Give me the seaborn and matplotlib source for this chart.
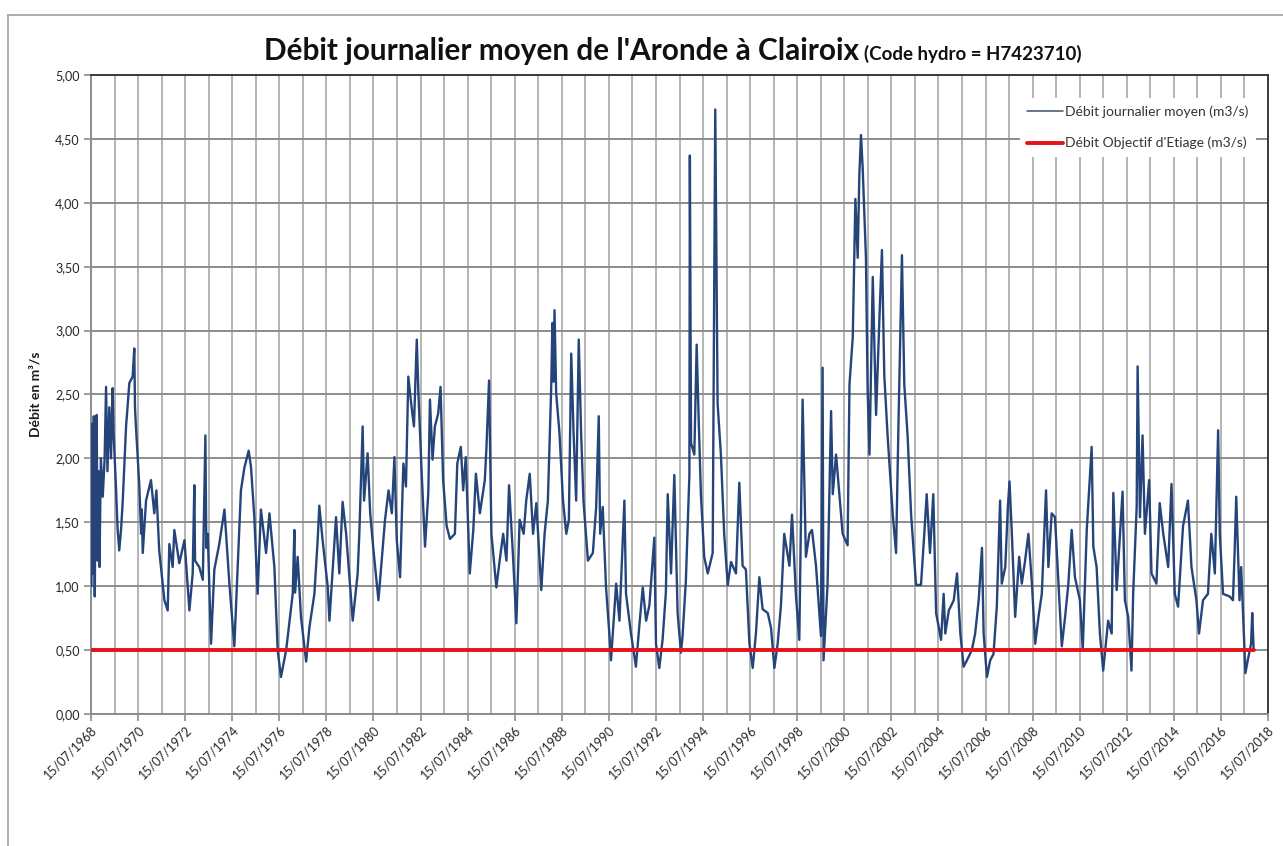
import numpy as np
import pandas as pd
import matplotlib
matplotlib.use("Agg")
import matplotlib.pyplot as plt
import matplotlib.dates as mdates
from matplotlib.lines import Line2D
from matplotlib.ticker import MultipleLocator, FuncFormatter
import seaborn as sns

# Débit journalier moyen de l'Aronde à Clairoix (m3/s), relevé aux dates
# exprimées en années décimales (x,5 = 15 juillet)
annees = [
    1968.52, 1968.55, 1968.58, 1968.62, 1968.66, 1968.70, 1968.74, 1968.78, 1968.82, 1968.86,
    1968.92, 1969.00, 1969.08, 1969.14, 1969.20, 1969.28, 1969.35, 1969.42, 1969.46, 1969.56,
    1969.63, 1969.70, 1969.78, 1969.85, 1969.99, 1970.13, 1970.27, 1970.34, 1970.37, 1970.41,
    1970.55, 1970.63, 1970.66, 1970.70, 1970.84, 1971.05, 1971.19, 1971.28, 1971.40, 1971.62,
    1971.76, 1971.83, 1971.97, 1972.04, 1972.25, 1972.47, 1972.68, 1972.82, 1972.89, 1972.92,
    1973.10, 1973.25, 1973.36, 1973.40, 1973.46, 1973.60, 1973.74, 1973.95, 1974.17, 1974.38,
    1974.59, 1974.73, 1974.87, 1975.02, 1975.20, 1975.30, 1975.44, 1975.58, 1975.72, 1975.94,
    1976.08, 1976.29, 1976.43, 1976.57, 1976.79, 1977.07, 1977.14, 1977.17, 1977.28, 1977.42,
    1977.64, 1977.78, 1977.99, 1978.13, 1978.20, 1978.34, 1978.56, 1978.63, 1978.91, 1979.05,
    1979.19, 1979.34, 1979.62, 1979.83, 1979.90, 1980.04, 1980.10,
    1980.25, 1980.36, 1980.50, 1980.71, 1980.85, 1980.99, 1981.14, 1981.28, 1981.39, 1981.49,
    1981.63, 1981.77, 1981.88, 1981.98, 1982.12, 1982.22, 1982.34, 1982.41, 1982.55, 1982.69,
    1982.83, 1982.90, 1983.01, 1983.11, 1983.25, 1983.35, 1983.46, 1983.61, 1983.75, 1983.96,
    1984.06, 1984.21, 1984.31, 1984.42, 1984.59, 1984.74, 1984.85, 1985.02, 1985.23, 1985.30,
    1985.41, 1985.51, 1985.72, 1985.86, 1986.01, 1986.15, 1986.26, 1986.43, 1986.57, 1986.71,
    1986.88, 1986.99, 1987.14, 1987.28, 1987.42, 1987.63, 1987.77, 1987.91, 1988.05, 1988.10,
    1988.15, 1988.19, 1988.26, 1988.40, 1988.55, 1988.69, 1988.80, 1988.90, 1989.00, 1989.11,
    1989.22, 1989.32, 1989.42, 1989.61, 1989.82, 1989.96, 1990.07, 1990.13, 1990.24, 1990.38,
    1990.52, 1990.59, 1990.81, 1990.95, 1991.16, 1991.23, 1991.44, 1991.65, 1991.79, 1991.94,
    1992.08, 1992.22, 1992.43, 1992.50, 1992.64, 1992.78, 1992.92, 1993.00, 1993.14, 1993.28,
    1993.42, 1993.56, 1993.63, 1993.77, 1993.92, 1993.94, 1993.99, 1994.13, 1994.23, 1994.31,
    1994.41, 1994.55, 1994.70, 1994.91, 1995.02, 1995.12, 1995.26, 1995.40, 1995.55, 1995.69,
    1995.90, 1996.04, 1996.18, 1996.32, 1996.47, 1996.61, 1996.75, 1996.89, 1997.03, 1997.25,
    1997.39, 1997.53, 1997.67, 1997.81, 1997.95, 1998.17, 1998.28, 1998.45, 1998.59, 1998.73,
    1998.87, 1999.02, 1999.13, 1999.30, 1999.51, 1999.58, 1999.62, 1999.79, 1999.94, 2000.01,
    2000.15, 2000.29, 2000.43, 2000.64, 2000.72, 2000.86, 2000.97, 2001.07, 2001.14, 2001.21,
    2001.28, 2001.42, 2001.49, 2001.57, 2001.71, 2001.85, 2001.99, 2002.10, 2002.20, 2002.34,
    2002.56, 2002.70, 2002.81, 2002.95, 2003.05, 2003.19, 2003.34, 2003.55, 2003.76, 2003.90,
    2004.00, 2004.14, 2004.28, 2004.40, 2004.61,
    2004.72, 2004.79, 2004.94, 2005.15, 2005.29, 2005.43, 2005.57, 2005.71, 2005.92, 2006.06,
    2006.21, 2006.35, 2006.42, 2006.56, 2006.70, 2006.84, 2006.98, 2007.12, 2007.19, 2007.34,
    2007.45, 2007.52, 2007.62, 2007.76, 2007.93, 2008.04, 2008.18, 2008.32, 2008.47, 2008.61,
    2008.75, 2008.89, 2009.07, 2009.17, 2009.31, 2009.45, 2009.60, 2009.74, 2009.88, 2010.02,
    2010.16, 2010.30, 2010.51, 2010.63, 2010.80, 2011.01, 2011.08, 2011.22, 2011.36, 2011.50,
    2011.71, 2011.86, 2011.93, 2012.07, 2012.32, 2012.42, 2012.56, 2012.70, 2012.77, 2012.92,
    2012.96, 2013.06, 2013.17, 2013.27, 2013.45, 2013.55, 2013.76, 2013.90, 2014.05, 2014.26,
    2014.40, 2014.54, 2014.68, 2014.89, 2015.10, 2015.25, 2015.46, 2015.57, 2015.74, 2015.95,
    2016.09, 2016.24, 2016.38, 2016.45, 2016.59, 2016.87, 2017.01, 2017.08, 2017.15, 2017.29,
    2017.36, 2017.50, 2017.54, 2017.64, 2017.78, 2017.83, 2017.89,
]
debits = [
    1.00, 2.27, 1.10, 2.33, 0.92, 1.85, 2.34, 1.20, 1.90, 1.15,
    2.00, 1.70, 2.00, 2.56, 1.90, 2.40, 2.00, 2.55, 2.20, 1.78,
    1.45, 1.28, 1.45, 1.67, 2.25, 2.59, 2.64, 2.86, 2.40, 2.25,
    1.80, 1.41, 1.60, 1.26, 1.67, 1.83, 1.57, 1.75, 1.28, 0.89,
    0.81, 1.33, 1.15, 1.44, 1.18, 1.36, 0.81, 1.10, 1.79, 1.20,
    1.15, 1.05, 2.18, 1.30, 1.41, 0.55, 1.13, 1.33, 1.60, 1.02,
    0.53, 1.15, 1.75, 1.93, 2.06, 1.93, 1.54, 0.94, 1.60, 1.26,
    1.57, 1.15, 0.50, 0.29, 0.50, 0.94, 1.44, 0.95, 1.23, 0.76,
    0.41, 0.68, 0.94, 1.36, 1.63, 1.36, 0.99, 0.73, 1.54, 1.10,
    1.66, 1.41, 0.73, 1.10, 1.41, 2.25, 1.67,
    2.04, 1.57, 1.28, 0.89, 1.20, 1.52, 1.75, 1.57, 2.01, 1.36,
    1.07, 1.96, 1.78, 2.64, 2.40, 2.25, 2.93, 2.51, 1.88, 1.31,
    1.73, 2.46, 1.99, 2.25, 2.35, 2.56, 1.83, 1.47, 1.37, 1.41,
    1.96, 2.09, 1.75, 2.01, 1.10, 1.44, 1.88, 1.57, 1.83, 2.09,
    2.61, 1.41, 0.99, 1.20, 1.41, 1.20, 1.79, 1.23, 0.71, 1.52,
    1.41, 1.67, 1.88, 1.41, 1.65, 0.97, 1.41, 1.67, 2.56, 3.06,
    2.60, 3.16, 2.51, 2.20, 1.67, 1.41, 1.52, 2.82, 2.20, 1.67,
    2.93, 2.20, 1.67, 1.20, 1.26, 1.62, 2.33, 1.41, 1.62, 0.99,
    0.63, 0.42, 1.02, 0.73, 1.67, 0.94, 0.63, 0.37, 0.68, 0.99,
    0.73, 0.85, 1.38, 0.55, 0.36, 0.58, 0.95, 1.72, 1.10, 1.87,
    0.79, 0.48, 0.61, 1.04, 1.87, 4.37, 2.12, 2.03, 2.89, 2.34,
    1.72, 1.23, 1.10, 1.26, 4.73, 2.43, 2.03, 1.41, 1.01, 1.19,
    1.10, 1.81, 1.16, 1.13, 0.55, 0.36, 0.64, 1.07, 0.82, 0.79,
    0.67, 0.36, 0.55, 0.85, 1.41, 1.16, 1.56, 0.92, 0.58, 2.46,
    1.23, 1.41, 1.44, 1.16, 0.61, 2.71, 0.42, 1.01, 2.37, 1.72,
    2.03, 1.72, 1.41, 1.32, 2.58, 2.95, 4.03, 3.57, 4.22, 4.53,
    4.28, 3.57, 2.55, 2.03, 3.42, 2.34, 3.08, 3.63, 2.65, 2.18,
    1.56, 1.26, 2.34, 3.59, 2.58, 2.18, 1.56, 1.01, 1.01, 1.41,
    1.72, 1.26, 1.72, 0.79, 0.58,
    0.94, 0.63, 0.81, 0.89, 1.10, 0.63, 0.37, 0.42, 0.50, 0.63,
    0.89, 1.30, 0.63, 0.29, 0.42, 0.47, 0.84, 1.67, 1.02, 1.15,
    1.62, 1.82, 1.41, 0.76, 1.23, 1.02, 1.20, 1.41, 1.02, 0.55,
    0.76, 0.94, 1.75, 1.15, 1.57, 1.54, 1.02, 0.53, 0.76, 1.02,
    1.44, 1.07, 0.89, 0.50, 1.44, 2.09, 1.31, 1.15, 0.63, 0.34,
    0.73, 0.63, 1.73, 0.97, 1.74, 0.89, 0.76, 0.34, 0.94, 1.62,
    2.72, 1.54, 2.18, 1.41, 1.83, 1.10, 1.02, 1.65, 1.41, 1.15,
    1.80, 0.94, 0.84, 1.47, 1.67, 1.15, 0.89, 0.63, 0.89, 0.94,
    1.41, 1.10, 2.22, 1.41, 0.94, 0.92, 0.89, 1.26, 1.70, 0.89,
    1.15, 0.50, 0.32, 0.42, 0.55, 0.79, 0.50,
]

# Débit Objectif d'Etiage (m3/s) et période couverte
doe = 0.50
doe_periode = [1968.54, 2017.89]

titre = "Débit journalier moyen de l'Aronde à Clairoix"
sous_titre = "(Code hydro = H7423710)"
label_debit = "Débit journalier moyen (m3/s)"
label_doe = "Débit Objectif d'Etiage (m3/s)"


def vers_date(a):
    """Année décimale -> date, la demi-année tombant le 15 juillet."""
    an = int(np.floor(a))
    return pd.Timestamp(year=an, month=7, day=15) + pd.Timedelta(days=(a - an - 0.5) * 365.25)


df = pd.DataFrame({"date": [vers_date(a) for a in annees], "debit": debits})
df_doe = pd.DataFrame({"date": [vers_date(a) for a in doe_periode], "debit": [doe, doe]})

sns.set_theme(style="white")
plt.rcParams["font.family"] = ["Lato", "DejaVu Sans"]

W, H = 1283, 846
fig = plt.figure(figsize=(W / 100, H / 100), dpi=100)
ax = fig.add_axes([91 / W, 1 - 714 / H, (1268 - 91) / W, (714 - 75) / H])

sns.lineplot(data=df, x="date", y="debit", ax=ax, color="#24447a", lw=1.7,
             estimator=None, sort=False, label=label_debit, zorder=3)
sns.lineplot(data=df_doe, x="date", y="debit", ax=ax, color="#e3121b", lw=2.8,
             estimator=None, sort=False, label=label_doe, zorder=4)

# Axes
ax.set_xlim(pd.Timestamp("1968-07-15"), pd.Timestamp("2018-07-15"))
ax.set_ylim(0, 5)
ax.yaxis.set_major_locator(MultipleLocator(0.5))
ax.yaxis.set_major_formatter(FuncFormatter(lambda v, p: f"{v:.2f}".replace(".", ",")))
ax.xaxis.set_major_locator(mdates.YearLocator(base=2, month=7, day=15))
ax.xaxis.set_minor_locator(mdates.YearLocator(base=1, month=7, day=15))
ax.xaxis.set_major_formatter(mdates.DateFormatter("%d/%m/%Y"))

ax.grid(axis="y", which="major", color="#8c8c8c", lw=1.4)
ax.grid(axis="x", which="both", color="#b4b4b4", lw=1.4)
ax.set_axisbelow(True)

for side in ("top", "right"):
    ax.spines[side].set_color("#3a3a3a")
    ax.spines[side].set_linewidth(1.4)
for side in ("left", "bottom"):
    ax.spines[side].set_color("#8c8c8c")
    ax.spines[side].set_linewidth(1.4)

ax.tick_params(axis="x", which="major", length=5, width=1.2, color="#8c8c8c",
               labelsize=9, pad=2, bottom=True)
ax.tick_params(axis="x", which="minor", length=0)
ax.tick_params(axis="y", length=5, width=1.2, color="#8c8c8c", labelsize=9, pad=3, left=True)
for lab in ax.get_xticklabels():
    lab.set_rotation(45)
    lab.set_ha("right")
    lab.set_rotation_mode("anchor")
    lab.set_color("#262626")
for lab in ax.get_yticklabels():
    lab.set_color("#262626")

ax.set_xlabel("")
ax.set_ylabel("Débit en m³/s", fontsize=10, fontweight="bold", color="#1a1a1a", labelpad=10)

leg = ax.legend(loc="upper right", bbox_to_anchor=(0.996, 0.975), frameon=True,
                facecolor="white", edgecolor="none", framealpha=1, fontsize=10,
                labelspacing=1.35, handlelength=2.6, handletextpad=0.15, borderpad=0.55)
for t in leg.get_texts():
    t.set_color("#333333")
leg.get_lines()[0].set_linewidth(1.1)
leg.get_lines()[0].set_color("#3d4f66")

# Titre en deux parties
t1 = fig.text(264 / W, 1 - 60 / H, titre, fontsize=21.4, fontweight="bold",
              color="#111111", ha="left", va="baseline")
fig.canvas.draw()
bb = t1.get_window_extent()
fig.text(bb.x1 / W + 5 / W, 1 - 60 / H, sous_titre, fontsize=13.5, fontweight="bold",
         color="#111111", ha="left", va="baseline")

# Cadre de la zone de graphique
fig.add_artist(Line2D([8 / W, 8 / W], [0, 1 - 15 / H], color="#a0a0a0", lw=1.2))
fig.add_artist(Line2D([8 / W, 1], [1 - 15 / H, 1 - 15 / H], color="#a0a0a0", lw=1.2))

fig.savefig("out.png", dpi=100)
